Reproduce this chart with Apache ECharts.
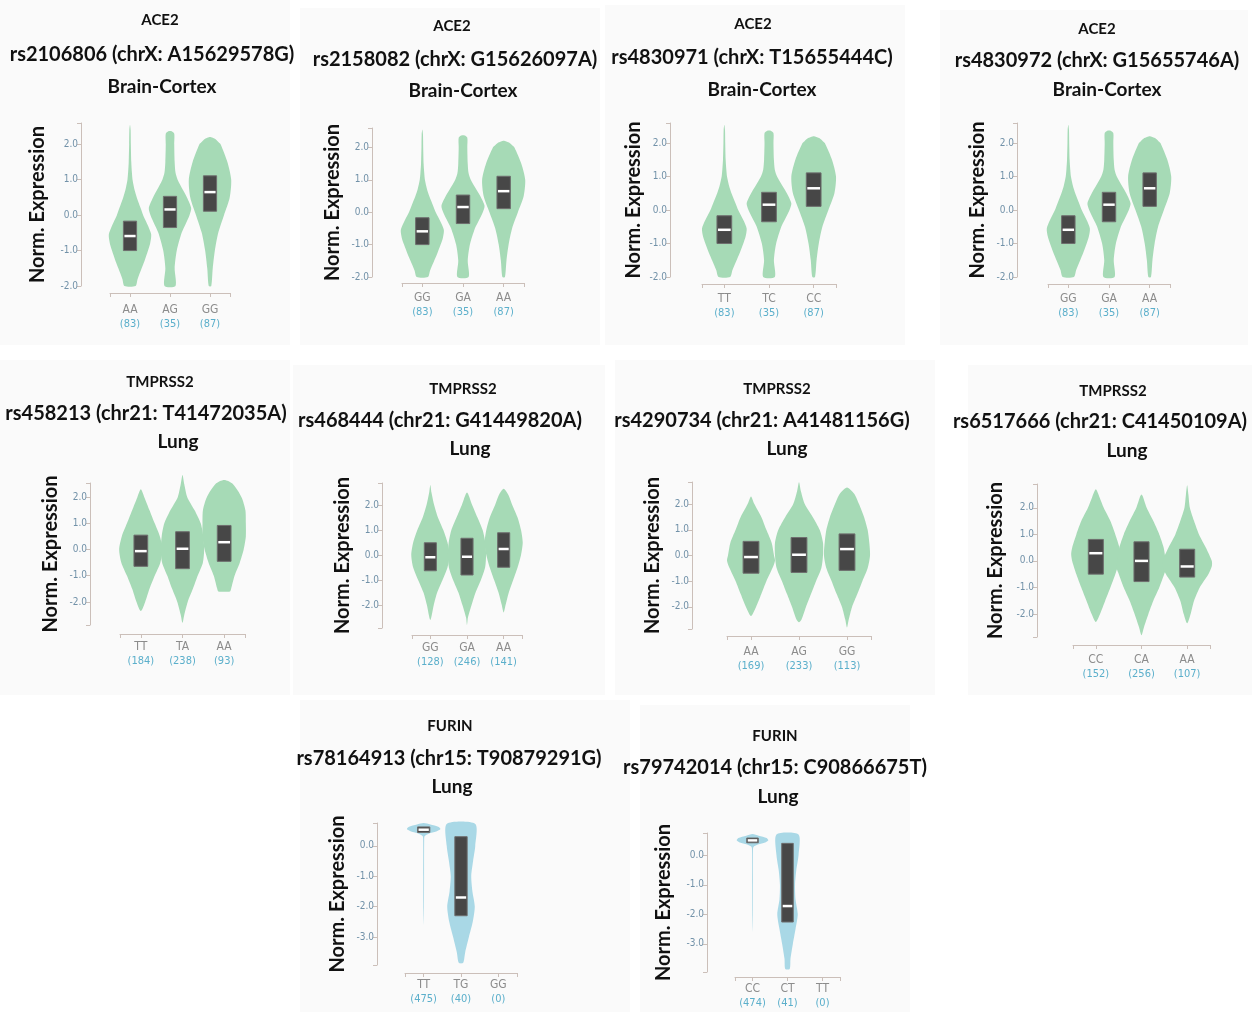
<!DOCTYPE html>
<html>
<head>
<meta charset="utf-8">
<script src="https://cdn.jsdelivr.net/npm/echarts@6/dist/echarts.min.js"></script>
<style>
  html, body { margin: 0; padding: 0; background: #fff; }
  #chart { width: 1252px; height: 1014px; }
</style>
</head>
<body>
<div id="chart"></div>
<script>
// ---- data ----
const panelGene = ['ACE2', 'ACE2', 'ACE2', 'ACE2', 'TMPRSS2', 'TMPRSS2', 'TMPRSS2', 'TMPRSS2', 'FURIN', 'FURIN'];
const panelSnp = [
  'rs2106806 (chrX: A15629578G)', 'rs2158082 (chrX: G15626097A)',
  'rs4830971 (chrX: T15655444C)', 'rs4830972 (chrX: G15655746A)',
  'rs458213 (chr21: T41472035A)', 'rs468444 (chr21: G41449820A)',
  'rs4290734 (chr21: A41481156G)', 'rs6517666 (chr21: C41450109A)',
  'rs78164913 (chr15: T90879291G)', 'rs79742014 (chr15: C90866675T)'
];
const panelTissue = ['Brain-Cortex', 'Brain-Cortex', 'Brain-Cortex', 'Brain-Cortex', 'Lung', 'Lung', 'Lung', 'Lung', 'Lung', 'Lung'];
const genotypes = [
  ['AA', 'AG', 'GG'], ['GG', 'GA', 'AA'], ['TT', 'TC', 'CC'], ['GG', 'GA', 'AA'],
  ['TT', 'TA', 'AA'], ['GG', 'GA', 'AA'], ['AA', 'AG', 'GG'], ['CC', 'CA', 'AA'],
  ['TT', 'TG', 'GG'], ['CC', 'CT', 'TT']
];
const sampleCounts = [
  [83, 35, 87], [83, 35, 87], [83, 35, 87], [83, 35, 87],
  [184, 238, 93], [128, 246, 141], [169, 233, 113], [152, 256, 107],
  [475, 40, 0], [474, 41, 0]
];
const yRange = [
  [-2.0, 2.6], [-2.0, 2.6], [-2.0, 2.6], [-2.0, 2.6],
  [-2.88, 2.54], [-2.92, 2.88], [-2.86, 2.86], [-2.87, 2.9],
  [-3.92, 0.75], [-3.95, 0.75]
];

// violin outlines: [expression, relative half width], top to bottom
const ace2Low = [[2.55, 0], [2.4, 0.03], [2.0, 0.04], [1.5, 0.06], [1.2, 0.09], [1.0, 0.12], [0.7, 0.22], [0.5, 0.32], [0.2, 0.5], [0.0, 0.62], [-0.3, 0.85], [-0.55, 1.0], [-0.8, 0.95], [-1.0, 0.85], [-1.3, 0.68], [-1.5, 0.55], [-1.8, 0.36], [-2.0, 0.26]];
const ace2Het = [[2.37, 0.08], [2.3, 0.2], [2.0, 0.2], [1.5, 0.22], [1.2, 0.26], [1.0, 0.36], [0.7, 0.62], [0.5, 0.8], [0.2, 1.0], [0.0, 0.92], [-0.3, 0.7], [-0.5, 0.55], [-1.0, 0.32], [-1.5, 0.22], [-2.0, 0.26]];
const ace2High = [[2.2, 0.05], [2.15, 0.25], [2.05, 0.42], [2.0, 0.5], [1.5, 0.82], [1.0, 1.0], [0.5, 0.93], [0.0, 0.66], [-0.5, 0.39], [-1.0, 0.23], [-1.5, 0.13], [-2.0, 0.06]];

const p5TT = [[2.3, 0], [2.0, 0.16], [1.5, 0.4], [1.0, 0.64], [0.5, 0.88], [0.0, 1.0], [-0.5, 0.9], [-1.0, 0.64], [-1.5, 0.4], [-2.0, 0.2], [-2.35, 0]];
const p5TA = [[2.85, 0], [2.5, 0.08], [2.0, 0.22], [1.5, 0.56], [1.0, 0.84], [0.5, 0.96], [0.0, 1.0], [-0.5, 0.94], [-1.0, 0.7], [-1.5, 0.48], [-2.0, 0.24], [-2.5, 0.08], [-2.8, 0]];
const p5AA = [[2.65, 0], [2.5, 0.4], [2.0, 0.8], [1.5, 0.98], [1.0, 1.0], [0.5, 1.0], [0.0, 0.9], [-0.5, 0.72], [-1.0, 0.48], [-1.5, 0.32], [-1.6, 0.27]];

const p6GG = [[2.8, 0], [2.5, 0.06], [2.0, 0.2], [1.5, 0.4], [1.0, 0.68], [0.5, 0.9], [0.0, 1.0], [-0.5, 0.9], [-1.0, 0.64], [-1.5, 0.36], [-2.0, 0.18], [-2.6, 0]];
const p6GA = [[2.5, 0], [2.0, 0.27], [1.5, 0.55], [1.0, 0.82], [0.5, 0.96], [0.0, 1.0], [-0.5, 0.95], [-1.0, 0.73], [-1.5, 0.45], [-2.0, 0.24], [-2.5, 0.05], [-2.8, 0]];
const p6AA = [[2.65, 0], [2.4, 0.25], [2.0, 0.45], [1.5, 0.73], [1.0, 0.91], [0.5, 1.0], [0.0, 0.91], [-0.5, 0.73], [-1.0, 0.5], [-1.5, 0.27], [-2.0, 0.1], [-2.3, 0]];

const p7AA = [[2.3, 0], [2.0, 0.14], [1.5, 0.43], [1.0, 0.64], [0.5, 0.86], [0.0, 0.96], [-0.2, 1.0], [-0.5, 0.89], [-1.0, 0.64], [-1.5, 0.43], [-2.0, 0.21], [-2.35, 0]];
const p7AG = [[2.85, 0], [2.5, 0.08], [2.0, 0.24], [1.5, 0.57], [1.0, 0.86], [0.5, 1.0], [0.0, 1.0], [-0.5, 0.93], [-1.0, 0.71], [-1.5, 0.5], [-2.0, 0.29], [-2.5, 0.1], [-2.6, 0]];
const p7GG = [[2.65, 0], [2.4, 0.3], [2.0, 0.5], [1.5, 0.71], [1.0, 0.86], [0.5, 0.93], [0.0, 0.96], [-0.5, 0.86], [-1.0, 0.64], [-1.5, 0.43], [-2.0, 0.21], [-2.5, 0.07], [-2.8, 0]];

const p8CC = [[2.7, 0], [2.4, 0.15], [2.0, 0.32], [1.5, 0.59], [1.0, 0.79], [0.5, 0.96], [0.25, 1.0], [0.0, 0.96], [-0.5, 0.79], [-1.0, 0.59], [-1.5, 0.38], [-2.0, 0.17], [-2.3, 0]];
const p8CA = [[2.5, 0], [2.0, 0.21], [1.5, 0.48], [1.0, 0.72], [0.5, 0.9], [0.0, 0.98], [-0.3, 1.0], [-0.5, 0.92], [-1.0, 0.72], [-1.5, 0.48], [-2.0, 0.28], [-2.5, 0.1], [-2.8, 0]];
const p8AA = [[2.85, 0], [2.5, 0.05], [2.0, 0.11], [1.5, 0.28], [1.0, 0.48], [0.5, 0.76], [0.0, 1.0], [-0.2, 1.0], [-0.5, 0.86], [-1.0, 0.51], [-1.5, 0.28], [-2.0, 0.14], [-2.35, 0]];

const p9TT = [[0.75, 0], [0.7, 0.4], [0.62, 0.9], [0.55, 1.0], [0.47, 0.75], [0.4, 0.3], [0.32, 0.06], [0.2, 0.03], [-1.0, 0.025], [-2.0, 0.02], [-2.6, 0]];
const p9TG = [[0.72, 0.85], [0.0, 0.85], [-0.5, 0.72], [-1.0, 0.61], [-1.5, 0.68], [-2.0, 0.82], [-2.5, 0.7], [-3.0, 0.47], [-3.5, 0.25], [-3.85, 0.13]];
const p10CC = [[0.72, 0], [0.66, 0.4], [0.58, 0.9], [0.5, 1.0], [0.42, 0.75], [0.35, 0.3], [0.28, 0.06], [0.15, 0.03], [-1.0, 0.025], [-2.0, 0.02], [-2.6, 0]];
const p10CT = [[0.7, 0.7], [0.0, 0.7], [-0.5, 0.56], [-1.0, 0.48], [-1.5, 0.51], [-2.0, 0.65], [-2.5, 0.51], [-3.0, 0.34], [-3.5, 0.19], [-3.85, 0.14]];

const violins = [
  [ace2Low, ace2Het, ace2High], [ace2Low, ace2Het, ace2High],
  [ace2Low, ace2Het, ace2High], [ace2Low, ace2Het, ace2High],
  [p5TT, p5TA, p5AA], [p6GG, p6GA, p6AA], [p7AA, p7AG, p7GG], [p8CC, p8CA, p8AA],
  [p9TT, p9TG, null], [p10CC, p10CT, null]
];

// box: [q1, median, q3]
const ace2Boxes = [[-1.0, -0.59, -0.17], [-0.35, 0.16, 0.53], [0.11, 0.65, 1.11]];
const boxes = [
  ace2Boxes, ace2Boxes, ace2Boxes, ace2Boxes,
  [[-0.64, -0.06, 0.55], [-0.73, 0.03, 0.68], [-0.45, 0.28, 0.92]],
  [[-0.63, -0.09, 0.49], [-0.8, -0.07, 0.67], [-0.49, 0.24, 0.89]],
  [[-0.69, -0.06, 0.55], [-0.66, 0.03, 0.7], [-0.58, 0.25, 0.84]],
  [[-0.5, 0.29, 0.81], [-0.78, 0.0, 0.72], [-0.61, -0.21, 0.44]],
  [[0.44, 0.53, 0.62], [-2.3, -1.7, 0.3], null],
  [[0.42, 0.5, 0.58], [-2.26, -1.72, 0.4], null]
];

// ---- layout (pixels) ----
const layout = [
  { yAxisX: 81, left: 110, width: 120, top: 123, bottom: 286, xAxisY: 293, nameX: 37, spread: 0.53, lab: 10, t: [[160, 20], [152, 55], [162, 87]] },
  { yAxisX: 372, left: 402, width: 122, top: 128, bottom: 277, xAxisY: 283, nameX: 332, spread: 0.53, lab: 8, t: [[452, 26], [455, 60], [463, 91]] },
  { yAxisX: 670, left: 702, width: 134, top: 123, bottom: 277, xAxisY: 284, nameX: 633, spread: 0.5, lab: 8, t: [[753, 24], [752, 58], [762, 90]] },
  { yAxisX: 1017, left: 1048, width: 122, top: 123, bottom: 277, xAxisY: 284, nameX: 977, spread: 0.53, lab: 8, t: [[1097, 29], [1097, 61], [1107, 90]] },
  { yAxisX: 90, left: 120, width: 125, top: 483, bottom: 625, xAxisY: 634, nameX: 50, spread: 0.52, lab: 6, t: [[160, 382], [146, 414], [178, 442]] },
  { yAxisX: 382, left: 412, width: 110, top: 483, bottom: 628, xAxisY: 635, nameX: 342, spread: 0.52, lab: 6, t: [[463, 389], [440, 421], [470, 449]] },
  { yAxisX: 692, left: 727, width: 144, top: 482, bottom: 629, xAxisY: 636, nameX: 652, spread: 0.5, lab: 9, t: [[777, 389], [762, 421], [787, 449]] },
  { yAxisX: 1037, left: 1073, width: 137, top: 484, bottom: 637, xAxisY: 645, nameX: 995, spread: 0.54, lab: 8, t: [[1113, 391], [1100, 422], [1127, 451]] },
  { yAxisX: 377, left: 405, width: 112, top: 823, bottom: 965, xAxisY: 973, nameX: 337, spread: 0.45, lab: 5, t: [[450, 726], [449, 759], [452, 787]] },
  { yAxisX: 707, left: 735, width: 105, top: 833, bottom: 972, xAxisY: 977, nameX: 663, spread: 0.45, lab: 5, t: [[775, 736], [775, 768], [778, 797]] }
];
const panelBg = [
  [0, 0, 290, 345], [300, 8, 300, 337], [605, 5, 300, 340], [940, 10, 308, 335],
  [0, 360, 290, 335], [293, 365, 312, 330], [615, 360, 320, 335], [968, 365, 284, 330],
  [300, 700, 330, 312], [640, 705, 270, 307]
];

const green = '#a6dab6';
const blue = '#a9d8e6';
const axisColor = '#cbbfb9';
const tickLabelColor = '#7191a8';

const chart = echarts.init(document.getElementById('chart'));

function violinRenderer(p) {
  return function (params, api) {
    const i = api.value(0);
    const prof = violins[p][i];
    const band = api.size([1, 0])[0];
    const cx = api.coord([i, 0])[0];
    const hw = band * layout[p].spread;
    const pts = [];
    prof.forEach(d => pts.push([cx + d[1] * hw, api.coord([i, d[0]])[1]]));
    for (let k = prof.length - 1; k >= 0; k--) {
      const d = prof[k];
      if (d[1] === 0 && (k === 0 || k === prof.length - 1)) continue;
      pts.push([cx - d[1] * hw, api.coord([i, d[0]])[1]]);
    }
    const bw = band * 0.33;
    const yQ1 = api.coord([i, api.value(1)])[1];
    const yMed = api.coord([i, api.value(2)])[1];
    const yQ3 = api.coord([i, api.value(3)])[1];
    return {
      type: 'group',
      children: [
        {
          type: 'polygon',
          shape: { points: pts, smooth: 0.25 },
          style: { fill: p >= 8 ? blue : green, stroke: null }
        },
        {
          type: 'rect',
          shape: { x: cx - bw / 2, y: yQ3, width: bw, height: yQ1 - yQ3 },
          style: { fill: '#474747', stroke: '#6e6e6e', lineWidth: 1 }
        },
        {
          type: 'line',
          shape: { x1: cx - bw / 2 + 1, y1: yMed, x2: cx + bw / 2 - 1, y2: yMed },
          style: { stroke: '#ffffff', lineWidth: 2.5 }
        }
      ]
    };
  };
}

const grids = [], xAxes = [], yAxes = [], series = [], graphics = [];

panelBg.forEach(b => {
  graphics.push({ type: 'rect', z: -10, shape: { x: b[0], y: b[1], width: b[2], height: b[3] }, style: { fill: '#fafafa' } });
});

const narrowFont = 'Liberation Sans Narrow, DejaVu Sans Condensed, sans-serif';

for (let p = 0; p < 10; p++) {
  const L = layout[p];
  grids.push({ left: L.left, top: L.top, width: L.width, height: L.bottom - L.top, outerBoundsMode: 'none' });

  xAxes.push({
    gridIndex: p, type: 'category', data: genotypes[p], position: 'bottom',
    offset: L.xAxisY - L.bottom,
    axisLine: { show: true, onZero: false, lineStyle: { color: axisColor, width: 1 } },
    axisTick: { show: true, alignWithLabel: true, length: 4, lineStyle: { color: axisColor } },
    axisLabel: {
      margin: L.lab,
      interval: 0,
      formatter: (v, idx) => '{g|' + v + '}\n{n|(' + sampleCounts[p][idx] + ')}',
      rich: {
        g: { color: '#8c8c8c', fontSize: 12, fontFamily: narrowFont, lineHeight: 14 },
        n: { color: '#5bafcb', fontSize: 11, fontFamily: narrowFont, lineHeight: 14 }
      }
    },
    splitLine: { show: false }
  });
  // end ticks of the x axis line
  xAxes.push({
    gridIndex: p, type: 'category', data: [''], position: 'bottom',
    offset: L.xAxisY - L.bottom,
    axisLine: { show: false, onZero: false },
    axisTick: { show: true, length: 4, lineStyle: { color: axisColor } },
    axisLabel: { show: false },
    splitLine: { show: false }
  });

  const yr = yRange[p];
  const yAx = {
    gridIndex: p, type: 'value', min: yr[0], max: yr[1],
    offset: L.left - L.yAxisX,
    axisLine: { show: true, onZero: false, lineStyle: { color: axisColor, width: 1 } },
    axisTick: { show: true, length: 4, lineStyle: { color: axisColor } },
    axisLabel: {
      color: tickLabelColor, fontSize: 10, margin: 3,
      fontFamily: narrowFont,
      formatter: v => Math.abs(v - Math.round(v)) < 1e-6 ? (Math.round(v) === 0 ? '0.0' : v.toFixed(1)) : ''
    },
    splitLine: { show: false },
    name: 'Norm. Expression',
    nameLocation: 'middle',
    nameRotate: 90,
    nameGap: (L.yAxisX - L.nameX) - 11,
    nameTextStyle: { color: '#111', fontSize: 20, fontWeight: 'bold', fontFamily: 'Lato, sans-serif' }
  };
  if (Number.isInteger(yr[0])) yAx.interval = 1;
  yAxes.push(yAx);

  const data = [];
  boxes[p].forEach((b, i) => { if (b) data.push([i, b[0], b[1], b[2]]); });
  series.push({
    type: 'custom', xAxisIndex: 2 * p, yAxisIndex: p,
    renderItem: violinRenderer(p),
    data: data,
    silent: true,
    animation: false
  });

  const texts = [panelGene[p], panelSnp[p], panelTissue[p]];
  const sizes = [15, 20, 19];
  texts.forEach((tx, k) => {
    graphics.push({
      type: 'text', x: L.t[k][0], y: L.t[k][1],
      style: {
        text: tx, fill: '#111', fontSize: sizes[k], fontWeight: 'bold', fontFamily: 'Lato, sans-serif',
        align: 'center', verticalAlign: 'middle', textAlign: 'center', textVerticalAlign: 'middle'
      }
    });
  });
}

chart.setOption({
  backgroundColor: '#ffffff',
  animation: false,
  grid: grids,
  xAxis: xAxes,
  yAxis: yAxes,
  series: series,
  graphic: graphics
});
</script>
</body>
</html>
